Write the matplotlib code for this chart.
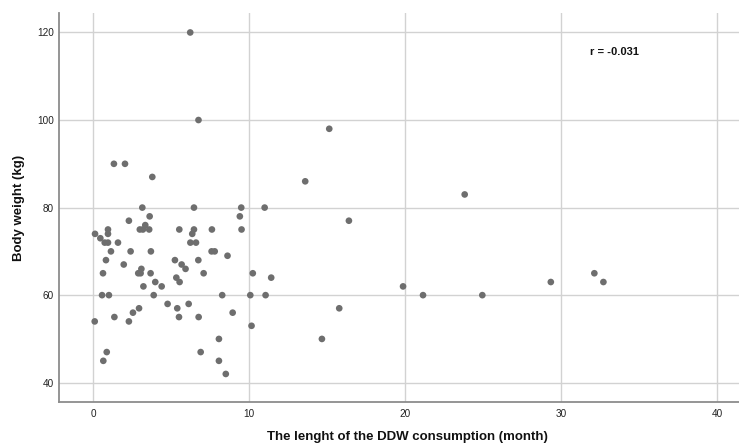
import matplotlib
matplotlib.use("Agg")
import matplotlib.pyplot as plt

plt.rcParams['font.family'] = ['Liberation Sans', 'DejaVu Sans']

# DDW consumption length (month)
months = [6.23, 6.76, 15.14, 1.34, 2.05, 3.8, 13.6, 3.16, 6.47, 9.5, 11.0,
          3.63, 9.41, 16.4, 2.3, 3.35, 3.0, 3.2, 3.6, 5.53, 6.47, 6.36, 7.62,
          9.52, 0.96, 0.96, 0.13, 0.47, 0.75, 0.96, 1.6, 6.24, 6.6, 1.15,
          2.41, 3.71, 7.6, 7.8, 0.83, 5.25, 6.75, 8.62, 1.97, 5.68, 5.93,
          3.1, 0.64, 2.9, 3.05, 3.69, 7.09, 10.24, 11.42, 5.34, 5.55, 3.99,
          3.23, 4.4, 0.58, 1.02, 3.89, 8.28, 10.08, 11.06, 4.78, 6.13, 2.95,
          5.4, 2.56, 8.95, 1.37, 5.51, 6.77, 0.11, 2.3, 10.16, 8.07, 0.88,
          6.9, 0.66, 8.07, 8.51, 14.67, 15.78,
          19.87, 21.15, 23.82, 24.95, 29.34, 32.13, 32.71]
# Body weight (kg)
weights = [120, 100, 98, 90, 90, 87, 86, 80, 80, 80, 80,
           78, 78, 77, 77, 76, 75, 75, 75, 75, 75, 74, 75,
           75, 75, 74, 74, 73, 72, 72, 72, 72, 72, 70,
           70, 70, 70, 70, 68, 68, 68, 69, 67, 67, 66,
           66, 65, 65, 65, 65, 65, 65, 64, 64, 63, 63,
           62, 62, 60, 60, 60, 60, 60, 60, 58, 58, 57,
           57, 56, 56, 55, 55, 55, 54, 54, 53, 50, 47,
           47, 45, 45, 42, 50, 57,
           62, 60, 83, 60, 63, 65, 63]

x_ticks = [0, 10, 20, 30, 40]
y_ticks = [40, 60, 80, 100, 120]
r_label = "r = -0.031"

fig = plt.figure(figsize=(7.39, 4.43), dpi=100)
ax = fig.add_axes([0.0794, 0.0932, 0.9206, 0.877])

ax.scatter(months, weights, s=23, color='#6e6e6e', edgecolors='none', zorder=3)

ax.set_xlim(-2.2, 41.4)
ax.set_ylim(35.66, 124.4)
ax.set_xticks(x_ticks)
ax.set_yticks(y_ticks)
ax.grid(True, color='#d2d2d2', linewidth=1.0, zorder=0)
ax.set_axisbelow(True)

for side in ['top', 'right']:
    ax.spines[side].set_visible(False)
for side in ['left', 'bottom']:
    ax.spines[side].set_color('#8c8c8c')
    ax.spines[side].set_linewidth(1.3)

ax.tick_params(axis='x', length=0, pad=5, labelsize=7.2, labelcolor='#222222')
ax.tick_params(axis='y', length=0, pad=3.5, labelsize=7.2, labelcolor='#222222')

ax.text(31.85, 115.6, r_label, ha='left', va='center', fontsize=8,
        fontweight='bold', color='#111111')

fig.text(0.026, 0.53, "Body weight (kg)", rotation=90, ha='center', va='center',
         fontsize=9.5, fontweight='bold', color='#111111')
fig.text(0.551, 0.013, "The lenght of the DDW consumption (month)", ha='center',
         va='center', fontsize=9.5, fontweight='bold', color='#111111')

fig.savefig("out.png", dpi=100)
